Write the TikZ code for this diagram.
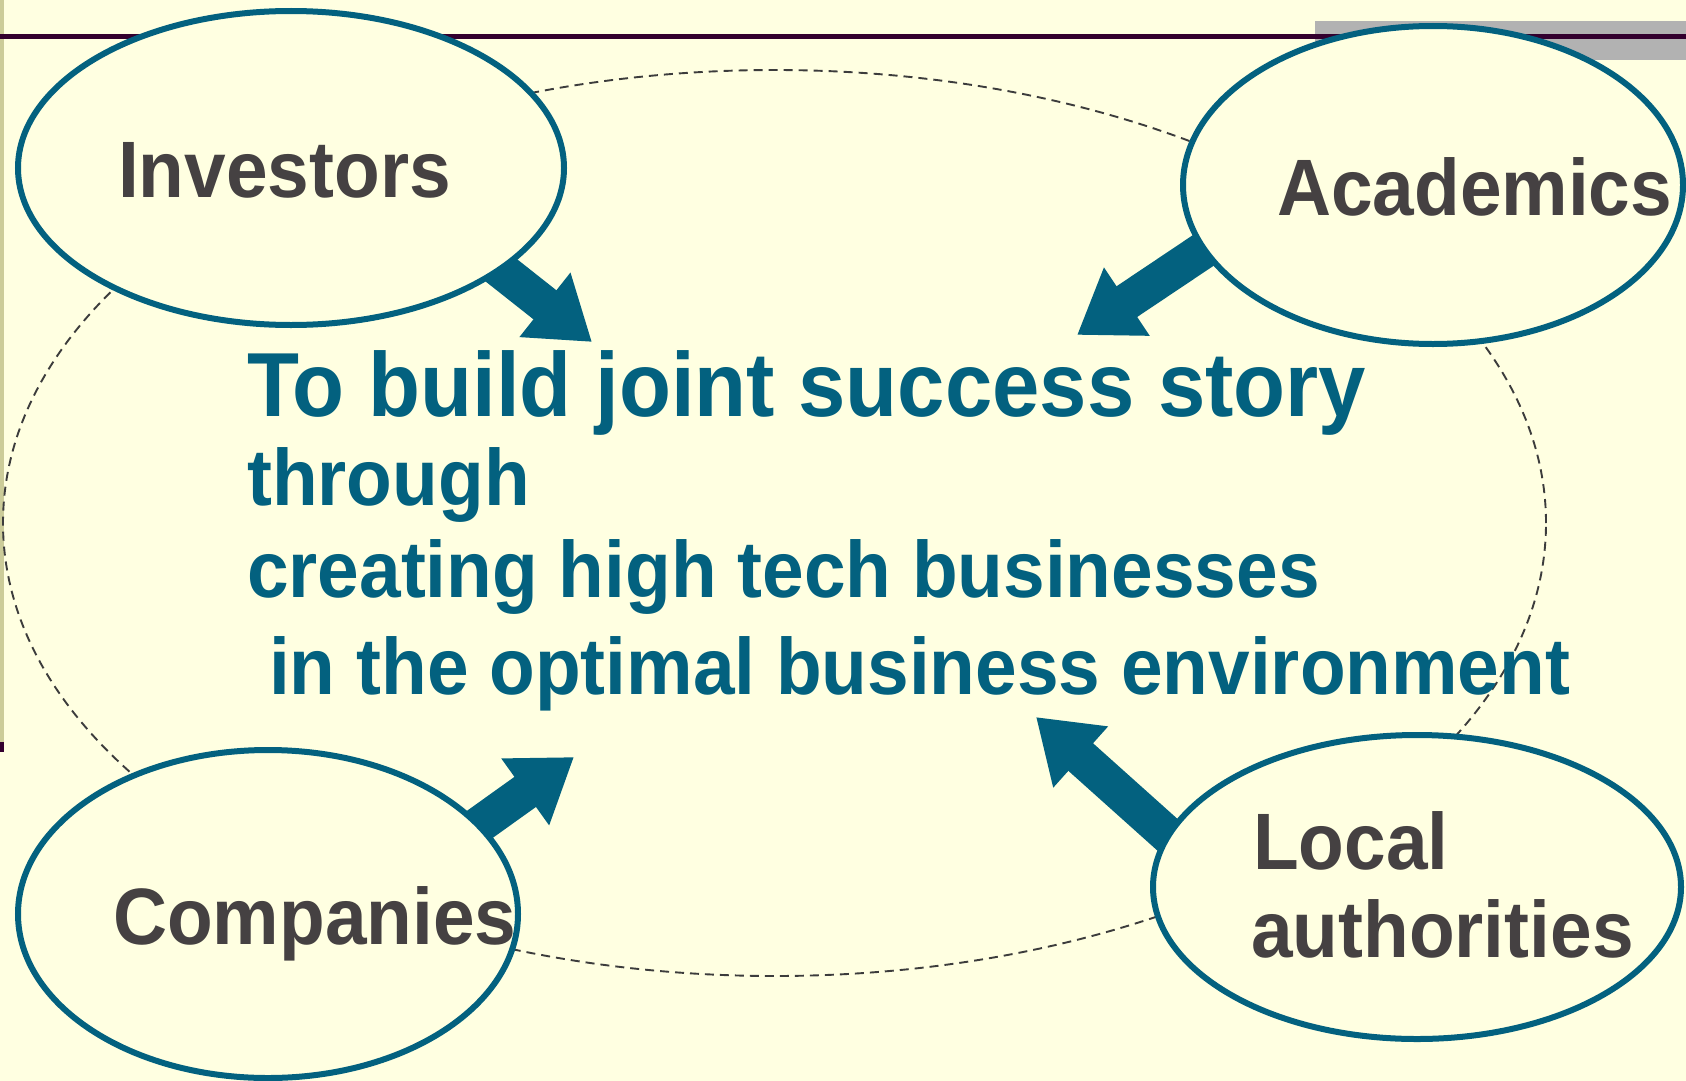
\documentclass[tikz,border=0pt]{standalone}
\usepackage{fontspec}
\setmainfont{Liberation Sans}
\newfontfamily\labfont{Liberation Sans}[FakeStretch=0.935]
\usetikzlibrary{arrows.meta,shapes.geometric}
\definecolor{bgc}{HTML}{FFFFE1}
\definecolor{tealc}{HTML}{03617F}
\definecolor{labc}{HTML}{454142}
\definecolor{dashc}{HTML}{3C3C3C}
\definecolor{barc}{HTML}{B2B2B2}
\definecolor{linec}{HTML}{33002E}
\definecolor{stripc}{HTML}{CCCC99}
\pgfdeclarelayer{background}
\pgfsetlayers{background,main}
\begin{document}
\begin{tikzpicture}[x=1pt,y=-1pt,
 ell/.style={ellipse, draw=tealc, line width=6pt, fill=bgc, inner sep=0pt},
 lab/.style={anchor=base west, inner sep=0pt, text=labc, font=\labfont\bfseries\fontsize{80}{80}\selectfont},
 goal/.style={anchor=base west, inner sep=0pt, text=tealc, font=\labfont\bfseries\fontsize{80}{80}\selectfont},
 goalbig/.style={goal, font=\labfont\bfseries\fontsize{91}{91}\selectfont},
 bigarrow/.style={draw=tealc, line width=37pt, -{Triangle[length=60pt,width=78pt]}, shorten <=-25pt},
 ring/.style={ellipse, draw=dashc, line width=1.9pt, dash pattern=on 9pt off 6pt, inner sep=0pt}]
\useasboundingbox (0,0) rectangle (1686,1081);

% ellipses
\node[ell, minimum width=546pt, minimum height=314pt] (inv) at (291,168) {};
\node[ell, minimum width=500pt, minimum height=318pt] (acad) at (1433,185) {};
\node[ell, minimum width=500pt, minimum height=328pt] (comp) at (268,914) {};
\node[ell, minimum width=528pt, minimum height=304pt] (loc) at (1417,887) {};

% labels
\node[lab] (tinv) at (118,197) {Investors};
\node[lab] (tacad) at (1277,215) {Academics};
\node[lab] (tcomp) at (113,944) {Companies};
\node[lab] (tloc1) at (1253,869) {Local};
\node[lab] (tloc2) at (1251,957) {authorities};

% goal text
\node[goalbig] (g1) at (247,416) {To build joint success story};
\node[goal] (g2) at (247,505) {through};
\node[goal] (g3) at (247,597) {creating high tech businesses};
\node[goal] (g4) at (269,694) {in the optimal business environment};

% arrow tips
\coordinate (invtip) at (592,342);
\coordinate (acadtip) at (1077,335);
\coordinate (comptip) at (574,757);
\coordinate (loctip) at (1036,717);

\begin{pgfonlayer}{background}
\fill[bgc] (0,0) rectangle (1686,1081);
\fill[stripc] (0,0) rectangle (4,742);
\fill[linec] (0,742) rectangle (4,752);
\fill[barc] (1315,21) rectangle (1686,60);
\fill[linec] (0,34.5) rectangle (1686,39.5);
\node[ring, minimum width=1543pt, minimum height=906pt] (ringn) at (774.5,523) {};
\draw[bigarrow] (inv.-26) -- (invtip);
\draw[bigarrow] (acad.196) -- (acadtip);
\draw[bigarrow] (comp.23) -- (comptip);
\draw[bigarrow] (loc.168) -- (loctip);
\end{pgfonlayer}
\end{tikzpicture}
\end{document}
